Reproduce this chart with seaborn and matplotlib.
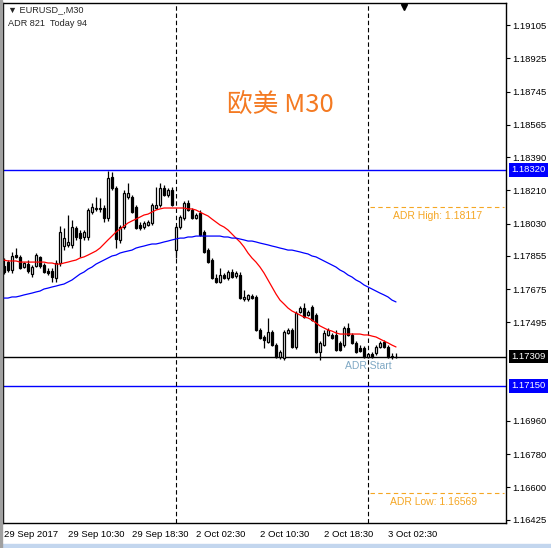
import matplotlib
matplotlib.use('Agg')
import matplotlib.pyplot as plt
import matplotlib.transforms as mtransforms
from matplotlib.patches import Rectangle
import numpy as np
import seaborn as sns

sns.set_style('white')
plt.rcParams['font.family'] = ['Liberation Sans', 'DejaVu Sans']

# EURUSD M30 candles, 29 Sep 02:30 -> 3 Oct 03:30
opens = [1.17800, 1.17821, 1.17778, 1.17859, 1.17849, 1.17794, 1.17810, 1.17756, 1.17800, 1.17849,
         1.17805, 1.17773, 1.17773, 1.17735, 1.17816, 1.17908, 1.17914, 1.17914, 1.18006, 1.17979,
         1.17957, 1.17957, 1.18092, 1.18109, 1.18114, 1.18114, 1.18060, 1.18282, 1.18222, 1.17941,
         1.18011, 1.18174, 1.18174, 1.18119, 1.18022, 1.18011, 1.18022, 1.18033, 1.18114, 1.18130,
         1.18222, 1.18184, 1.18212, 1.17886, 1.18011, 1.18060, 1.18141, 1.18103, 1.18060, 1.18087,
         1.17984, 1.17886, 1.17832, 1.17735, 1.17713, 1.17751, 1.17735, 1.17767, 1.17746, 1.17751,
         1.17621, 1.17621, 1.17637, 1.17632, 1.17453, 1.17415, 1.17388, 1.17442, 1.17371, 1.17307,
         1.17301, 1.17437, 1.17453, 1.17361, 1.17550, 1.17572, 1.17534, 1.17577, 1.17534, 1.17334,
         1.17371, 1.17426, 1.17426, 1.17426, 1.17383, 1.17371, 1.17464, 1.17426, 1.17383, 1.17355,
         1.17355, 1.17307, 1.17323, 1.17328, 1.17361, 1.17388, 1.17361, 1.17307, 1.17307]
highs = [1.17843, 1.17832, 1.17876, 1.17897, 1.17859, 1.17821, 1.17832, 1.17805, 1.17870, 1.17854,
         1.17816, 1.17789, 1.17789, 1.17832, 1.18016, 1.18006, 1.18076, 1.18049, 1.18016, 1.17995,
         1.17995, 1.18114, 1.18141, 1.18174, 1.18168, 1.18130, 1.18315, 1.18309, 1.18233, 1.18022,
         1.18212, 1.18250, 1.18184, 1.18130, 1.18038, 1.18044, 1.18049, 1.18141, 1.18228, 1.18250,
         1.18239, 1.18222, 1.18228, 1.18022, 1.18076, 1.18152, 1.18157, 1.18114, 1.18087, 1.18103,
         1.17995, 1.17897, 1.17843, 1.17756, 1.17789, 1.17762, 1.17778, 1.17783, 1.17773, 1.17767,
         1.17670, 1.17648, 1.17648, 1.17643, 1.17464, 1.17426, 1.17518, 1.17453, 1.17383, 1.17344,
         1.17453, 1.17464, 1.17464, 1.17556, 1.17583, 1.17599, 1.17561, 1.17588, 1.17545, 1.17393,
         1.17453, 1.17464, 1.17437, 1.17453, 1.17393, 1.17475, 1.17491, 1.17437, 1.17393, 1.17371,
         1.17366, 1.17328, 1.17334, 1.17371, 1.17393, 1.17399, 1.17371, 1.17328, 1.17328]
lows = [1.17756, 1.17767, 1.17762, 1.17843, 1.17783, 1.17789, 1.17762, 1.17740, 1.17794, 1.17789,
        1.17762, 1.17751, 1.17713, 1.17713, 1.17800, 1.17886, 1.17903, 1.17897, 1.17941, 1.17849,
        1.17941, 1.17941, 1.18081, 1.18098, 1.18092, 1.18038, 1.18044, 1.18212, 1.17897, 1.17924,
        1.18000, 1.18163, 1.18087, 1.18000, 1.17995, 1.18000, 1.18016, 1.18022, 1.18109, 1.18119,
        1.18179, 1.18174, 1.18125, 1.17843, 1.18000, 1.18049, 1.18098, 1.18054, 1.18054, 1.17962,
        1.17870, 1.17816, 1.17729, 1.17708, 1.17708, 1.17729, 1.17724, 1.17735, 1.17735, 1.17621,
        1.17610, 1.17610, 1.17621, 1.17447, 1.17404, 1.17355, 1.17383, 1.17366, 1.17301, 1.17296,
        1.17290, 1.17431, 1.17355, 1.17350, 1.17545, 1.17518, 1.17529, 1.17502, 1.17328, 1.17290,
        1.17366, 1.17420, 1.17404, 1.17339, 1.17339, 1.17361, 1.17420, 1.17377, 1.17328, 1.17334,
        1.17301, 1.17301, 1.17301, 1.17317, 1.17355, 1.17355, 1.17301, 1.17296, 1.17301]
closes = [1.17767, 1.17778, 1.17854, 1.17849, 1.17789, 1.17816, 1.17773, 1.17794, 1.17859, 1.17800,
          1.17767, 1.17762, 1.17740, 1.17816, 1.17984, 1.17951, 1.17930, 1.18011, 1.17957, 1.17951,
          1.17984, 1.18103, 1.18119, 1.18114, 1.18109, 1.18060, 1.18277, 1.18222, 1.17946, 1.18011,
          1.18195, 1.18195, 1.18092, 1.18006, 1.18006, 1.18033, 1.18038, 1.18130, 1.18130, 1.18222,
          1.18184, 1.18212, 1.18130, 1.18011, 1.18065, 1.18141, 1.18103, 1.18060, 1.18076, 1.17968,
          1.17876, 1.17821, 1.17735, 1.17713, 1.17751, 1.17735, 1.17767, 1.17740, 1.17762, 1.17626,
          1.17632, 1.17643, 1.17626, 1.17453, 1.17409, 1.17399, 1.17442, 1.17371, 1.17307, 1.17334,
          1.17442, 1.17453, 1.17361, 1.17545, 1.17572, 1.17523, 1.17550, 1.17507, 1.17334, 1.17383,
          1.17437, 1.17453, 1.17409, 1.17344, 1.17344, 1.17464, 1.17426, 1.17383, 1.17334, 1.17339,
          1.17307, 1.17323, 1.17307, 1.17361, 1.17383, 1.17361, 1.17307, 1.17312, 1.17309]

# moving averages as drawn on the chart
ma_fast = [1.17832, 1.17827, 1.17827, 1.17827, 1.17821, 1.17821, 1.17821, 1.17821, 1.17821, 1.17821,
           1.17821, 1.17816, 1.17816, 1.17810, 1.17810, 1.17816, 1.17821, 1.17827, 1.17832, 1.17843,
           1.17849, 1.17859, 1.17870, 1.17881, 1.17897, 1.17919, 1.17941, 1.17962, 1.17984, 1.18000,
           1.18016, 1.18033, 1.18044, 1.18054, 1.18065, 1.18076, 1.18081, 1.18092, 1.18103, 1.18109,
           1.18114, 1.18114, 1.18114, 1.18114, 1.18114, 1.18114, 1.18109, 1.18109, 1.18103, 1.18092,
           1.18081, 1.18071, 1.18054, 1.18038, 1.18022, 1.18011, 1.17995, 1.17973, 1.17951, 1.17930,
           1.17903, 1.17870, 1.17843, 1.17821, 1.17794, 1.17762, 1.17724, 1.17686, 1.17648, 1.17615,
           1.17594, 1.17572, 1.17556, 1.17545, 1.17534, 1.17523, 1.17518, 1.17507, 1.17491, 1.17475,
           1.17464, 1.17453, 1.17447, 1.17437, 1.17431, 1.17431, 1.17431, 1.17431, 1.17431, 1.17431,
           1.17426, 1.17426, 1.17420, 1.17415, 1.17404, 1.17393, 1.17383, 1.17371, 1.17361]
ma_slow = [1.17626, 1.17626, 1.17632, 1.17632, 1.17637, 1.17643, 1.17648, 1.17653, 1.17659, 1.17664,
           1.17675, 1.17680, 1.17686, 1.17691, 1.17697, 1.17702, 1.17713, 1.17724, 1.17740, 1.17756,
           1.17767, 1.17783, 1.17794, 1.17810, 1.17821, 1.17832, 1.17843, 1.17854, 1.17859, 1.17870,
           1.17876, 1.17881, 1.17886, 1.17897, 1.17903, 1.17908, 1.17914, 1.17919, 1.17919, 1.17924,
           1.17930, 1.17935, 1.17941, 1.17946, 1.17951, 1.17951, 1.17957, 1.17957, 1.17962, 1.17962,
           1.17962, 1.17962, 1.17962, 1.17962, 1.17962, 1.17957, 1.17957, 1.17951, 1.17951, 1.17946,
           1.17941, 1.17935, 1.17935, 1.17930, 1.17924, 1.17919, 1.17914, 1.17908, 1.17903, 1.17897,
           1.17892, 1.17886, 1.17886, 1.17881, 1.17876, 1.17870, 1.17865, 1.17854, 1.17849, 1.17838,
           1.17827, 1.17816, 1.17805, 1.17794, 1.17778, 1.17767, 1.17751, 1.17740, 1.17724, 1.17713,
           1.17697, 1.17686, 1.17675, 1.17664, 1.17653, 1.17643, 1.17632, 1.17615, 1.17605]

xtick_pos = [0, 16, 32, 48, 64, 80, 96]
xtick_labels = ['29 Sep 2017', '29 Sep 10:30', '29 Sep 18:30', '2 Oct 02:30',
                '2 Oct 10:30', '2 Oct 18:30', '3 Oct 02:30']
ytick_vals = [1.19105, 1.18925, 1.18745, 1.18565, 1.18390, 1.18210, 1.18030,
              1.17855, 1.17675, 1.17495, 1.16960, 1.16780, 1.16600, 1.16425]
day_breaks = [43, 91]          # 2 Oct 00:00, 3 Oct 00:00
level_hi = 1.18320
level_lo = 1.17150
bid = 1.17309
adr_high = 1.18117
adr_low = 1.16569
adr_start = 91

idx = np.arange(len(opens))
o = np.array(opens); c = np.array(closes)
h = np.array(highs); l = np.array(lows)

fig = plt.figure(figsize=(5.51, 5.48), dpi=100)
ax = fig.add_axes([3/551, 25/548, 503/551, 520/548])

# candles
ax.vlines(idx, l, h, color='black', lw=0.9, zorder=3)
bull = c >= o
ax.bar(idx, np.abs(c - o), bottom=np.minimum(o, c), width=0.55,
       color=np.where(bull, 'white', 'black'), edgecolor='black', lw=0.9, zorder=4)

# moving averages
sns.lineplot(x=idx, y=ma_fast, ax=ax, color='#FF0000', lw=0.9, zorder=5)
sns.lineplot(x=idx, y=ma_slow, ax=ax, color='#0000FF', lw=0.9, zorder=5)

# levels
ax.axhline(level_hi, color='#0000FF', lw=1, zorder=2)
ax.axhline(level_lo, color='#0000FF', lw=1, zorder=2)
ax.axhline(bid, color='black', lw=1, zorder=2)
for d in day_breaks:
    ax.axvline(d, color='black', lw=0.8, dashes=(4, 2.5), zorder=2)

orange = '#F5A623'
xr = 125.5
ax.hlines([adr_high, adr_low], adr_start + 0.5, xr - 0.6, color=orange, lw=0.8,
          linestyles=(0, (4, 3)), zorder=2)
ax.text(108.3, adr_high - 0.00046, 'ADR High: 1.18117', color=orange, fontsize=7.5,
        ha='center', va='center')
ax.text(107.3, adr_low - 0.00048, 'ADR Low: 1.16569', color=orange, fontsize=7.5,
        ha='center', va='center')
ax.text(adr_start, bid - 0.00052, 'ADR Start', color='#7FA8C4', fontsize=7.5,
        ha='center', va='center')

# axes setup
ax.set_xlim(-0.25, xr)
ax.set_ylim(1.16407, 1.19225)
ax.yaxis.tick_right()
ax.set_yticks(ytick_vals)
ax.set_yticklabels([f'{v:.5f}' for v in ytick_vals])
ax.set_xticks(xtick_pos)
ax.set_xticklabels(xtick_labels)
for lab in ax.get_xticklabels():
    lab.set_ha('left')
ax.tick_params(axis='both', labelsize=6.8, length=3, width=0.8, color='black',
               labelcolor='black', direction='out')
ax.tick_params(axis='y', pad=1.5)
ax.tick_params(axis='x', pad=2)
ax.set_xlabel('')
ax.set_ylabel('')
for s in ax.spines.values():
    s.set_color('black')
    s.set_linewidth(1)

# price boxes on the right scale
trans = mtransforms.blended_transform_factory(ax.transAxes, ax.transData)
for val, col in [(level_hi, '#0000FF'), (bid, 'black'), (level_lo, '#0000FF')]:
    ax.text(1.0 + 5/503, val, f'{val:.5f}', transform=trans, color='white', fontsize=6.8,
            ha='left', va='center', clip_on=False, zorder=10,
            bbox=dict(boxstyle='square,pad=0.25', fc=col, ec='none'))

# header texts
ax.text(0.009, 0.987, '▼ EURUSD_,M30', transform=ax.transAxes, fontsize=6.6,
        ha='left', va='center')
ax.text(0.009, 0.960, 'ADR 821  Today 94', transform=ax.transAxes, fontsize=6.6,
        ha='left', va='center')
ax.text(0.552, 0.805, '欧美 M30', transform=ax.transAxes, fontsize=18.5, color='#F47A22',
        ha='center', va='center', family=['Noto Sans CJK SC', 'DejaVu Sans'])

# chart shift marker
ax.plot([0.797], [0.992], marker='v', color='black', ms=5, transform=ax.transAxes,
        clip_on=False, zorder=10)

# window frame bits
fig.patches.append(Rectangle((0, 0), 1, 4/548, transform=fig.transFigure,
                             color='#C3D6EE', zorder=0))
fig.patches.append(Rectangle((0, 0), 2/551, 1, transform=fig.transFigure,
                             color='#A0A0A0', zorder=0))

fig.savefig('out.png', dpi=100)
